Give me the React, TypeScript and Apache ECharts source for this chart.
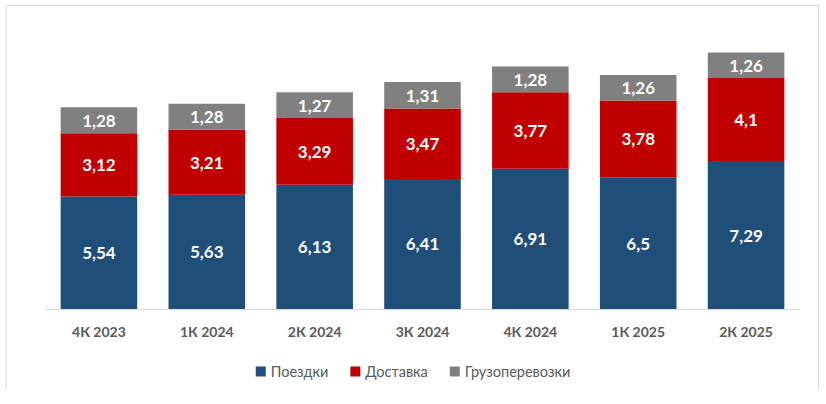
import React, { useEffect, useRef } from "react";
import * as echarts from "echarts";

const categories = ["4К 2023", "1К 2024", "2К 2024", "3К 2024", "4К 2024", "1К 2025", "2К 2025"];
const trips = [5.54, 5.63, 6.13, 6.41, 6.91, 6.5, 7.29];
const delivery = [3.12, 3.21, 3.29, 3.47, 3.77, 3.78, 4.1];
const freight = [1.28, 1.28, 1.27, 1.31, 1.28, 1.26, 1.26];
const seriesNames = ["Поездки", "Доставка", "Грузоперевозки"];
const colors = ["#1F4E79", "#C00000", "#808080"];

export default function App() {
  const ref = useRef<HTMLDivElement>(null);
  useEffect(() => {
    if (!ref.current) return;
    const chart = echarts.init(ref.current, undefined, { renderer: "svg" });
    const label = {
      show: true,
      position: "inside",
      color: "#ffffff",
      fontFamily: "Lato",
      fontWeight: "bold",
      fontSize: 17,
      formatter: (p: any) => String(p.value).replace(".", ","),
    };
    const data = [trips, delivery, freight];
    chart.setOption({
      animation: false,
      backgroundColor: "#ffffff",
      grid: { left: 45, right: 26, top: 25, bottom: 95 },
      legend: {
        data: seriesNames,
        top: 359,
        left: "center",
        itemWidth: 10,
        itemHeight: 10,
        itemGap: 22,
        icon: "rect",
        textStyle: { color: "#595959", fontSize: 14.5, fontFamily: "Lato" },
      },
      xAxis: {
        type: "category",
        data: categories,
        axisLine: { lineStyle: { color: "#d9d9d9", width: 1 } },
        axisTick: { show: false },
        axisLabel: {
          color: "#595959",
          fontWeight: "bold",
          fontSize: 14,
          fontFamily: "Lato",
          margin: 15,
        },
      },
      yAxis: {
        type: "value",
        min: 0,
        max: 14,
        show: false,
        splitLine: { show: false },
      },
      graphic: [
        {
          type: "polyline",
          shape: { points: [[6, 390], [6, 5.5], [818.5, 5.5], [818.5, 390]] },
          style: { stroke: "#d9d9d9", lineWidth: 1, fill: "none" },
        },
      ],
      series: seriesNames.map((name, i) => ({
        name,
        type: "bar",
        stack: "total",
        barCategoryGap: "29%",
        itemStyle: { color: colors[i] },
        label,
        data: data[i],
      })),
    });
    return () => chart.dispose();
  }, []);
  return (
    <div
      ref={ref}
      style={{ position: "fixed", left: 0, top: 0, width: 826, height: 404 }}
    />
  );
}
